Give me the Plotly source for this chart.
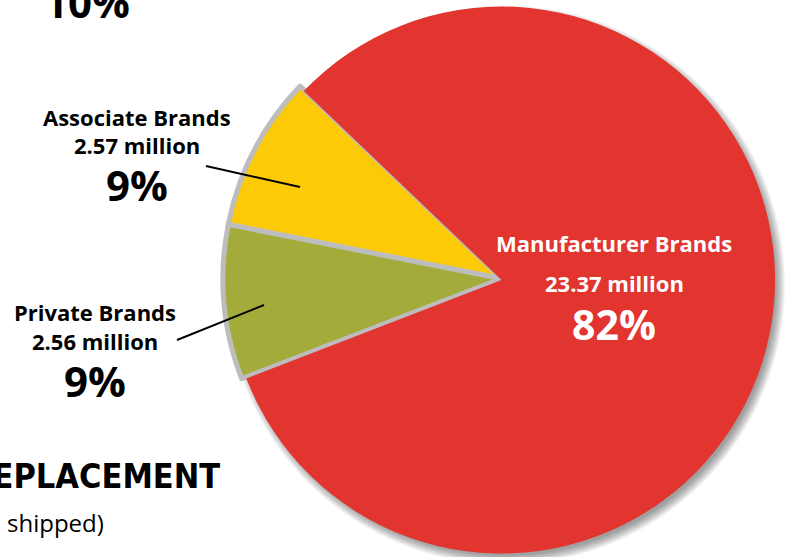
import plotly.graph_objects as go

# Shipments by brand type (millions of units)
labels = ["Manufacturer Brands", "Private Brands", "Associate Brands"]
values = [23.37, 2.56, 2.57]
shares = ["82%", "9%", "9%"]
colors = ["#E2352F", "#A3AC3B", "#FDCA08"]

W, H = 785, 557
CX = 501.5          # pie centre, px from left
R_BIG = H / 2       # radius of the two small slices (full height)
CY_BIG = H / 2      # centre of the small-slice layer, px from top
CY_RED = 280        # centre of the large slice, px from top
R_RED = 273.5       # radius of the large slice
ROT = -46.3         # start angle of the first slice
SEP = "#bdbdbd"

def px(x):
    return x / W

def py(y):
    return 1 - y / H

fig = go.Figure()

# outer layer: the two small slices at full radius, with grey seams
fig.add_trace(go.Pie(
    labels=labels, values=values, sort=False, direction="clockwise",
    rotation=ROT, textinfo="none", hoverinfo="skip", showlegend=False,
    automargin=False,
    marker=dict(colors=["rgba(0,0,0,0)", colors[1], colors[2]],
                line=dict(color=[SEP, SEP, SEP], width=[0, 5, 5])),
    domain=dict(x=[px(CX - R_BIG), px(CX + R_BIG)],
                y=[py(CY_BIG + R_BIG), py(CY_BIG - R_BIG)]),
))

# inner layer: the large slice at a slightly smaller radius
fig.add_trace(go.Pie(
    labels=labels, values=values, sort=False, direction="clockwise",
    rotation=ROT, textinfo="none", hoverinfo="skip", showlegend=False,
    automargin=False,
    marker=dict(colors=[colors[0], "rgba(0,0,0,0)", "rgba(0,0,0,0)"],
                line=dict(width=0)),
    domain=dict(x=[px(CX - R_RED), px(CX + R_RED)],
                y=[py(CY_RED + R_RED), py(CY_RED - R_RED)]),
))

# soft drop shadow behind the pie
shapes = []
for k in range(10):
    r = R_RED - 3 + k
    sx, sy = CX + 4, CY_RED + 5
    shapes.append(dict(
        type="circle", xref="paper", yref="paper", layer="below",
        x0=px(sx - r), x1=px(sx + r), y0=py(sy + r), y1=py(sy - r),
        fillcolor="rgba(0,0,0,0.045)", line=dict(width=0),
    ))

# leader lines from the outside labels into their slices
shapes.append(dict(type="line", xref="paper", yref="paper",
                   x0=px(206), y0=py(166), x1=px(300), y1=py(187),
                   line=dict(color="black", width=2)))
shapes.append(dict(type="line", xref="paper", yref="paper",
                   x0=px(177), y0=py(340), x1=px(264), y1=py(305),
                   line=dict(color="black", width=2)))

FONT = "Open Sans"
ann = []

def label(text, x, y, size, color="black", family=FONT, xanchor="center"):
    ann.append(dict(text=text, x=px(x), y=py(y), xref="paper", yref="paper",
                    xanchor=xanchor, yanchor="middle", showarrow=False,
                    font=dict(family=family, size=size, color=color)))

# Manufacturer Brands, inside the red slice
label("<b>" + labels[0] + "</b>", 614, 243, 22, "white")
label("<b>%.2f million</b>" % values[0], 614, 283, 22, "white")
label("<b>" + shares[0] + "</b>", 614, 324, 41, "white")

# Associate Brands
label("<b>" + labels[2] + "</b>", 137, 117, 22)
label("<b>%.2f million</b>" % values[2], 137, 145, 22)
label("<b>" + shares[2] + "</b>", 137, 184, 42)

# Private Brands
label("<b>" + labels[1] + "</b>", 95, 312, 22)
label("<b>%.2f million</b>" % values[1], 95, 341, 22)
label("<b>" + shares[1] + "</b>", 95, 380, 42)

# neighbouring panel text
label("<b>10%</b>", 87, 2, 42)
label("<b>REPLACEMENT</b>", 222, 476, 34, family="DejaVu Sans Condensed",
      xanchor="right")
label("shipped)", 5, 522, 24, xanchor="left")

fig.update_layout(
    width=W, height=H,
    margin=dict(l=0, r=0, t=0, b=0),
    paper_bgcolor="white", plot_bgcolor="white",
    shapes=shapes, annotations=ann,
)

fig.write_html("out.html")
